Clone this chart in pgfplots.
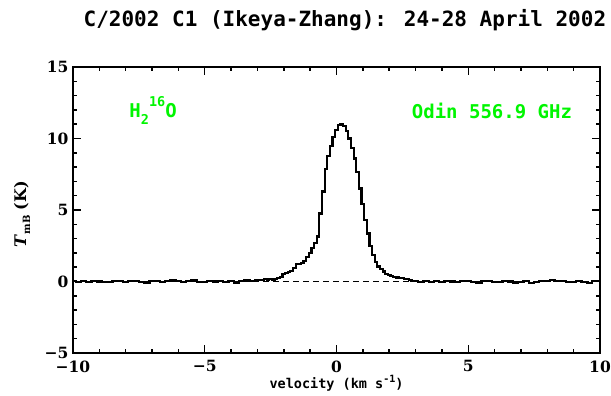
\documentclass[border=0pt]{standalone}
\usepackage{fontspec}
\setmainfont{DejaVu Serif}
\newfontfamily\monofont{DejaVu Sans Mono}
\usepackage{pgfplots}
\pgfplotsset{compat=1.18}
\definecolor{brightgreen}{RGB}{0,245,0}
\pgfplotstableread{
v T
-10.0 0.02
-9.8 -0.05
-9.6 0.03
-9.4 -0.02
-9.2 0.05
-9.0 0.00
-8.8 -0.06
-8.6 -0.03
-8.4 0.04
-8.2 0.01
-8.0 -0.04
-7.8 0.02
-7.6 0.06
-7.4 -0.02
-7.2 -0.07
-7.0 0.03
-6.8 0.05
-6.6 -0.03
-6.4 0.01
-6.2 0.07
-6.0 0.02
-5.8 -0.05
-5.6 0.03
-5.4 0.08
-5.2 -0.01
-5.0 -0.06
-4.8 0.04
-4.6 0.00
-4.4 0.06
-4.2 -0.03
-4.0 0.02
-3.8 -0.08
-3.6 0.03
-3.4 0.09
-3.2 0.05
-3.0 0.12
-2.8 0.08
-2.7 0.15
-2.6 0.12
-2.5 0.20
-2.4 0.10
-2.3 0.18
-2.2 0.25
-2.1 0.30
-2.0 0.50
-1.9 0.62
-1.8 0.65
-1.7 0.75
-1.6 0.95
-1.5 1.20
-1.4 1.25
-1.3 1.32
-1.2 1.45
-1.1 1.72
-1.0 2.00
-0.9 2.35
-0.8 2.70
-0.7 3.15
-0.6 4.75
-0.5 6.30
-0.4 7.85
-0.3 8.80
-0.2 9.50
-0.1 10.10
0.0 10.60
0.1 10.95
0.2 11.02
0.3 10.90
0.4 10.55
0.5 10.00
0.6 9.35
0.7 8.60
0.8 7.65
0.9 6.50
1.0 5.40
1.1 4.30
1.2 3.35
1.3 2.50
1.4 1.85
1.5 1.35
1.6 1.05
1.7 0.85
1.8 0.70
1.9 0.55
2.0 0.45
2.1 0.38
2.2 0.30
2.3 0.28
2.4 0.22
2.5 0.25
2.6 0.15
2.7 0.18
2.8 0.10
2.9 0.05
3.0 0.02
3.2 -0.04
3.4 0.03
3.6 -0.05
3.8 0.01
4.0 -0.03
4.2 0.04
4.4 0.00
4.6 -0.06
4.8 0.02
5.0 0.05
5.2 -0.02
5.4 -0.07
5.6 0.01
5.8 0.04
6.0 -0.04
6.2 -0.02
6.4 0.06
6.6 0.00
6.8 -0.08
7.0 -0.03
7.2 0.03
7.4 -0.10
7.6 -0.04
7.8 0.05
8.0 0.02
8.2 0.08
8.4 0.01
8.6 0.04
8.8 -0.03
9.0 -0.06
9.2 0.02
9.4 -0.04
9.6 -0.08
9.8 0.03
10.0 0.05
}\spec
\begin{document}
\begin{tikzpicture}
\begin{axis}[name=ax,
  scale only axis, width=527pt, height=286pt,
  xmin=-10, xmax=10, ymin=-5, ymax=15,
  xtick={-10,-5,0,5,10}, ytick={-5,0,5,10,15},
  xticklabels={−10,−5,0,5,10}, yticklabels={−5,0,5,10,15},
  minor x tick num=4, minor y tick num=4,
  tick align=inside, major tick length=8pt, minor tick length=4pt,
  tick style={line width=1.5pt, black},
  axis line style={line width=2pt},
  ticklabel style={font=\fontsize{15.5}{17}\selectfont\bfseries},
  xticklabel style={yshift=-4pt},
  yticklabel style={xshift=-1pt},
  xlabel={\monofont\bfseries velocity (km s\raisebox{0.45em}{\fontsize{10}{11}\selectfont-1})},
  every axis x label/.style={at={(rel axis cs:0.5,0)}, anchor=center, yshift=-30pt, font=\fontsize{13.5}{15}\selectfont},
  ylabel={\textbf{\textit{T}}\raisebox{-0.25em}{\fontsize{10}{11}\selectfont\bfseries mB} \textbf{(K)}},
  every axis y label/.style={at={(rel axis cs:0,0.5)}, anchor=center, rotate=90, yshift=51pt, xshift=-4pt, font=\fontsize{16}{17}\selectfont},
  clip=false,
]
\addplot[black, line width=1.8pt, dash pattern=on 6pt off 4pt] coordinates {(-10,0) (10,0)};
\addplot[black, line width=2.2pt, const plot mark mid, mark=none] table[x=v,y=T] {\spec};
\node[brightgreen, font=\fontsize{19}{20}\selectfont\monofont\bfseries] at (axis cs:-6.96,11.95) {H\raisebox{-0.4em}{\fontsize{13.5}{14}\selectfont 2}\raisebox{0.55em}{\fontsize{13.5}{14}\selectfont 16}O};
\node[brightgreen, font=\fontsize{19}{20}\selectfont\monofont\bfseries] at (axis cs:5.9,11.95) {Odin 556.9 GHz};
\node[font=\fontsize{21}{22}\selectfont\monofont\bfseries] at ([yshift=47pt]rel axis cs:0.516,1) {C/2002 C1 (Ikeya-Zhang): 24-28 April 2002};
\end{axis}
\pgfresetboundingbox
\path[use as bounding box] ([xshift=-73pt,yshift=-43pt]ax.south west) rectangle ([xshift=11pt,yshift=67pt]ax.north east);
\end{tikzpicture}
\end{document}
